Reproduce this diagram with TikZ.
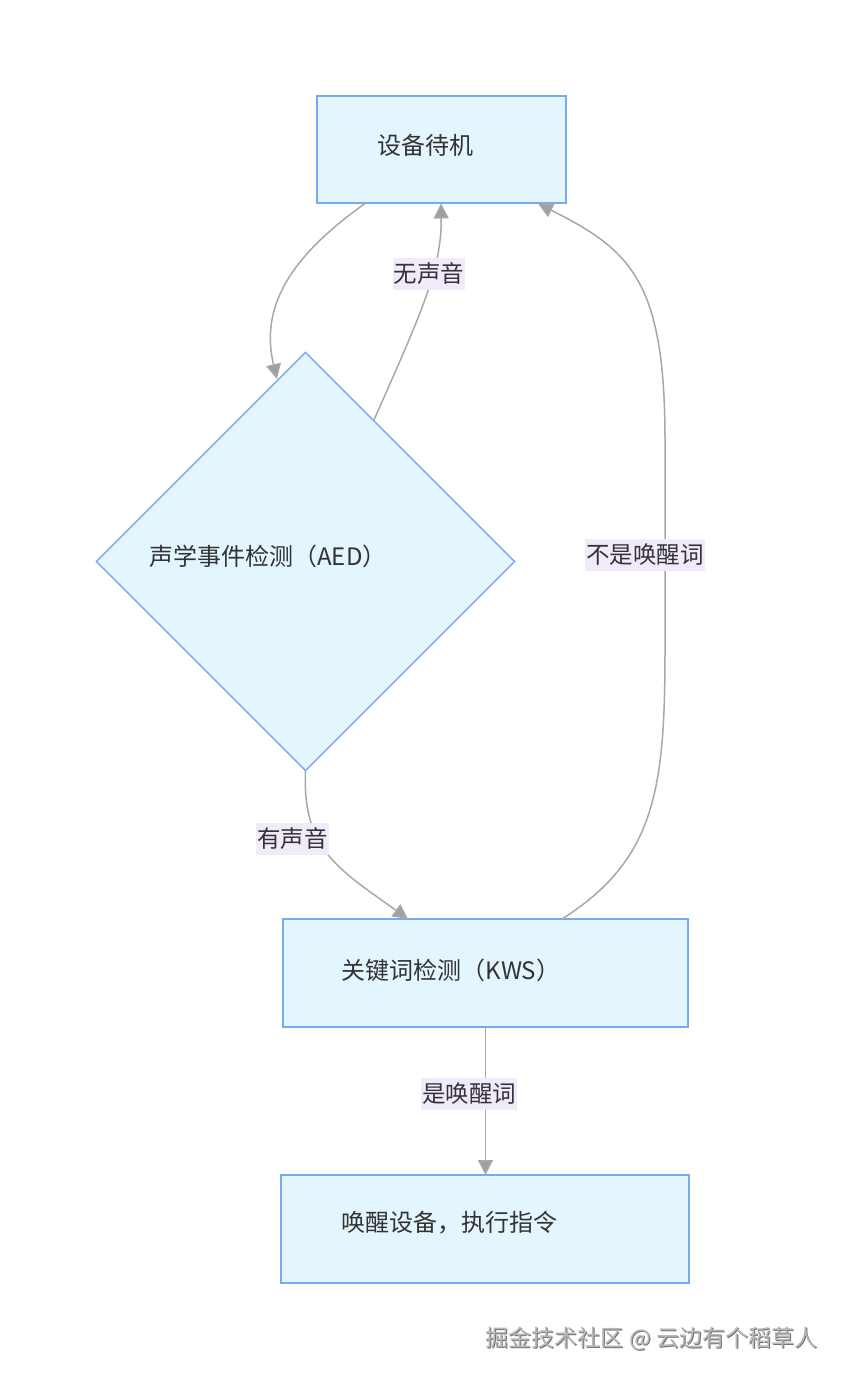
\documentclass[tikz,border=0pt]{standalone}
\usepackage{fontspec}
\setmainfont{Noto Sans CJK SC}
\usetikzlibrary{arrows.meta,shapes.geometric}
\definecolor{boxfill}{HTML}{E3F5FD}
\definecolor{boxline}{HTML}{78AAF0}
\definecolor{edgec}{HTML}{A8A8A8}
\definecolor{arrowc}{HTML}{A0A0A0}
\definecolor{labbg}{HTML}{F1EAFB}
\definecolor{txt}{HTML}{333333}
\tikzset{
  boxnode/.style={draw=boxline, fill=boxfill, line width=1.4pt, inner sep=0pt},
  txtnode/.style={text=txt, font=\fontsize{24}{28}\selectfont, inner sep=0pt},
  lab/.style={fill=labbg, text=txt, font=\fontsize{23.5}{28}\selectfont, inner xsep=1pt, inner ysep=5pt},
  edge/.style={draw=edgec, line width=1.5pt, -{Triangle[length=15pt,width=15pt,fill=arrowc]}},
}
\begin{document}
\begin{tikzpicture}[x=1pt,y=-1pt]
\useasboundingbox (0,0) rectangle (841,1379);
\fill[white] (0,0) rectangle (841,1379);
% nodes
\node[boxnode, minimum width=249pt, minimum height=107pt] (standby) at (441.5,149.5) {};
\node[txtnode] (standbyt) at (425.5,145) {设备待机};
\node[boxnode, diamond, minimum width=419pt, minimum height=419pt, aspect=1] (aed) at (305.5,561.5) {};
\node[txtnode] (aedt) at (268,556) {声学事件检测（AED）};
\node[boxnode, minimum width=405pt, minimum height=108pt] (kws) at (485.5,973) {};
\node[txtnode] (kwst) at (451,970) {关键词检测（KWS）};
\node[boxnode, minimum width=408pt, minimum height=108pt] (wake) at (485,1229) {};
\node[txtnode] (waket) at (449.5,1223) {唤醒设备，执行指令};
% anchor coordinates
\coordinate (s1) at (365,203.5);
\coordinate (s2) at (441,203.5);
\coordinate (s3) at (538,203.5);
\coordinate (a1) at (277,379);
\coordinate (a2) at (374,420);
\coordinate (a3) at (305.5,771);
\coordinate (k1) at (408,919);
\coordinate (k2) at (562,919);
\coordinate (k3) at (485.5,1027);
\coordinate (w1) at (485.5,1175);
% edges
\draw[edge] (s1) .. controls (300,250) and (258,300) .. (a1);
\draw[edge] (a2) .. controls (418,320) and (442,270) .. (s2);
\draw[edge] (a3) .. controls (302,850) and (340,870) .. (k1);
\draw[edge] (k2) .. controls (655,860) and (665,790) .. (665,650) -- (665,440) .. controls (665,280) and (630,250) .. (s3);
\draw[edge] (k3) -- (w1);
% labels
\node[lab] (l1) at (429,274) {无声音};
\node[lab] (l2) at (292.5,839) {有声音};
\node[lab] (l3) at (645,555) {不是唤醒词};
\node[lab] (l4) at (469,1094) {是唤醒词};
% watermark
\node[text=black!55, font=\fontsize{23}{27}\selectfont, inner sep=0pt] (wm0) at (652.5,1339.5) {掘金技术社区 @ 云边有个稻草人};
\node[text=black!28, font=\fontsize{23}{27}\selectfont, inner sep=0pt] (wm) at (651.5,1338.5) {掘金技术社区 @ 云边有个稻草人};
\end{tikzpicture}
\end{document}
